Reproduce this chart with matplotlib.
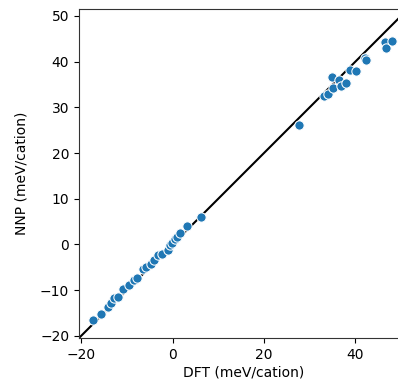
import matplotlib
matplotlib.use("Agg")
import matplotlib.pyplot as plt
import numpy as np

dft = [-17.3, -15.7, -14.0, -13.4, -12.7, -12.0, -10.8, -9.6, -8.4, -7.8, -6.4, -5.8,
       -4.8, -4.0, -3.1, -2.4, -0.9, -0.5, -0.1, 0.6, 0.9, 1.6, 3.1, 6.2,
       27.7, 33.2, 34.1, 35.0, 34.8, 36.5, 36.8, 37.9, 38.8, 40.1, 42.0, 42.3,
       46.4, 46.6, 48.1]
nnp = [-16.5, -15.2, -13.6, -12.9, -11.7, -11.4, -9.8, -8.9, -7.7, -7.3, -5.3, -4.9,
       -4.2, -3.4, -2.2, -2.0, -1.2, -0.1, 0.3, 1.3, 1.6, 2.6, 4.0, 6.0,
       26.2, 32.4, 32.9, 34.2, 36.6, 36.0, 34.6, 35.4, 38.1, 37.9, 40.8, 40.3,
       44.3, 43.0, 44.4]

W, H = 398, 384
fig = plt.figure(figsize=(W / 100, H / 100), dpi=100)
ax = fig.add_axes([79 / W, (H - 338) / H, (408 - 79) / W, (338 - 9) / H])

ax.axline((0, 0), slope=1, color="black", lw=1.5, zorder=1)
ax.scatter(dft, nnp, s=45, color="#1f77b4", edgecolor="white", linewidth=0.75, zorder=2)

ax.set_xlim(-20.45, 51.5)
ax.set_ylim(-20.45, 51.5)
ax.set_xticks([-20, 0, 20, 40])
ax.set_yticks([-20, -10, 0, 10, 20, 30, 40, 50])
ax.set_xlabel("DFT (meV/cation)", labelpad=3)
ax.set_ylabel("NNP (meV/cation)", labelpad=8)
for sp in ax.spines.values():
    sp.set_color("#333333")

fig.savefig("out.png", dpi=100)
